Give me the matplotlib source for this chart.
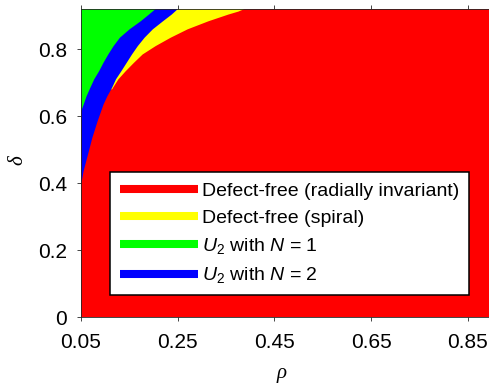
import matplotlib
matplotlib.use("Agg")
import matplotlib.pyplot as plt
from matplotlib.lines import Line2D

plt.rcParams['font.family'] = ['Liberation Sans', 'DejaVu Sans']
plt.rcParams['mathtext.fontset'] = 'custom'
plt.rcParams['mathtext.rm'] = 'Liberation Sans'
plt.rcParams['mathtext.it'] = 'Liberation Sans:italic'

# parameter window
rho_range = [0.05, 0.9]
delta_top = 0.92

# left-hand phase boundaries, read row by row (delta -> rho)
green_delta = [0.922, 0.905, 0.885, 0.861, 0.836, 0.811, 0.786, 0.761, 0.736, 0.712,
               0.687, 0.661, 0.636, 0.617]
green_rho   = [0.204, 0.190, 0.173, 0.150, 0.130, 0.117, 0.106, 0.096, 0.087, 0.077,
               0.069, 0.061, 0.055, 0.050]

blue_delta = [0.922, 0.905, 0.885, 0.861, 0.836, 0.811, 0.786, 0.761, 0.736, 0.712,
              0.687, 0.661, 0.636, 0.587, 0.537, 0.487, 0.438, 0.398]
blue_rho   = [0.250, 0.237, 0.219, 0.198, 0.181, 0.167, 0.155, 0.144, 0.133, 0.122,
              0.114, 0.104, 0.096, 0.084, 0.073, 0.064, 0.055, 0.050]

spiral_delta = [0.922, 0.914, 0.905, 0.885, 0.861, 0.836, 0.811, 0.786, 0.761, 0.736,
                0.712, 0.687, 0.682]
spiral_rho   = [0.388, 0.375, 0.354, 0.313, 0.270, 0.235, 0.204, 0.177, 0.159, 0.142,
                0.127, 0.116, 0.114]

labels = ["Defect-free (radially invariant)", "Defect-free (spiral)",
          r"$U_2$ with $N$ = 1", r"$U_2$ with $N$ = 2"]
colors = ["#ff0000", "#ffff00", "#00ff00", "#0000ff"]

axcol = "#262626"

fig = plt.figure(figsize=(4.8905, 3.8705), dpi=100)
ax = fig.add_axes([80.7 / 489, 69.7 / 387, 411.4 / 489, 308.2 / 387])

# red background, then the other phases stacked on top from the left edge
ax.fill_between(rho_range, 0, delta_top, color=colors[0], lw=0, antialiased=False)
ax.fill_betweenx(spiral_delta, rho_range[0], spiral_rho, color=colors[1], lw=0, antialiased=False)
ax.fill_betweenx(blue_delta, rho_range[0], blue_rho, color=colors[3], lw=0, antialiased=False)
ax.fill_betweenx(green_delta, rho_range[0], green_rho, color=colors[2], lw=0, antialiased=False)

ax.set_xlim(rho_range)
ax.set_ylim(0, delta_top)
ax.set_xticks([0.05, 0.25, 0.45, 0.65, 0.85])
ax.set_xticklabels(["0.05", "0.25", "0.45", "0.65", "0.85"])
ax.set_yticks([0, 0.2, 0.4, 0.6, 0.8])
ax.set_yticklabels(["0", "0.2", "0.4", "0.6", "0.8"])
ax.tick_params(direction='out', top=True, right=True, length=2.6, width=0.6,
               color=axcol, labelcolor="black", labelsize=15, pad=7)
ax.tick_params(axis='x', pad=9)
for s in ax.spines.values():
    s.set_color(axcol)
    s.set_linewidth(0.6)
    s.set_zorder(5)

ax.set_xlabel("ρ", family="Liberation Serif", style="italic", fontsize=15)
ax.set_ylabel("δ", family="Liberation Serif", style="italic", fontsize=15)
ax.xaxis.set_label_coords(0.489, -0.15)
ax.yaxis.set_label_coords(-0.13, 0.509)

handles = [Line2D([], [], color=c, lw=5.8, solid_capstyle='butt') for c in colors]
leg = ax.legend(handles, labels, loc='lower left', bbox_to_anchor=(0.0712, 0.072),
                borderaxespad=0, fontsize=14, handlelength=4.0, handletextpad=0.25,
                labelspacing=0.48, borderpad=0.5, fancybox=False, framealpha=1,
                edgecolor='black')
leg.get_frame().set_linewidth(1.1)

fig.savefig("out.png", dpi=100)
